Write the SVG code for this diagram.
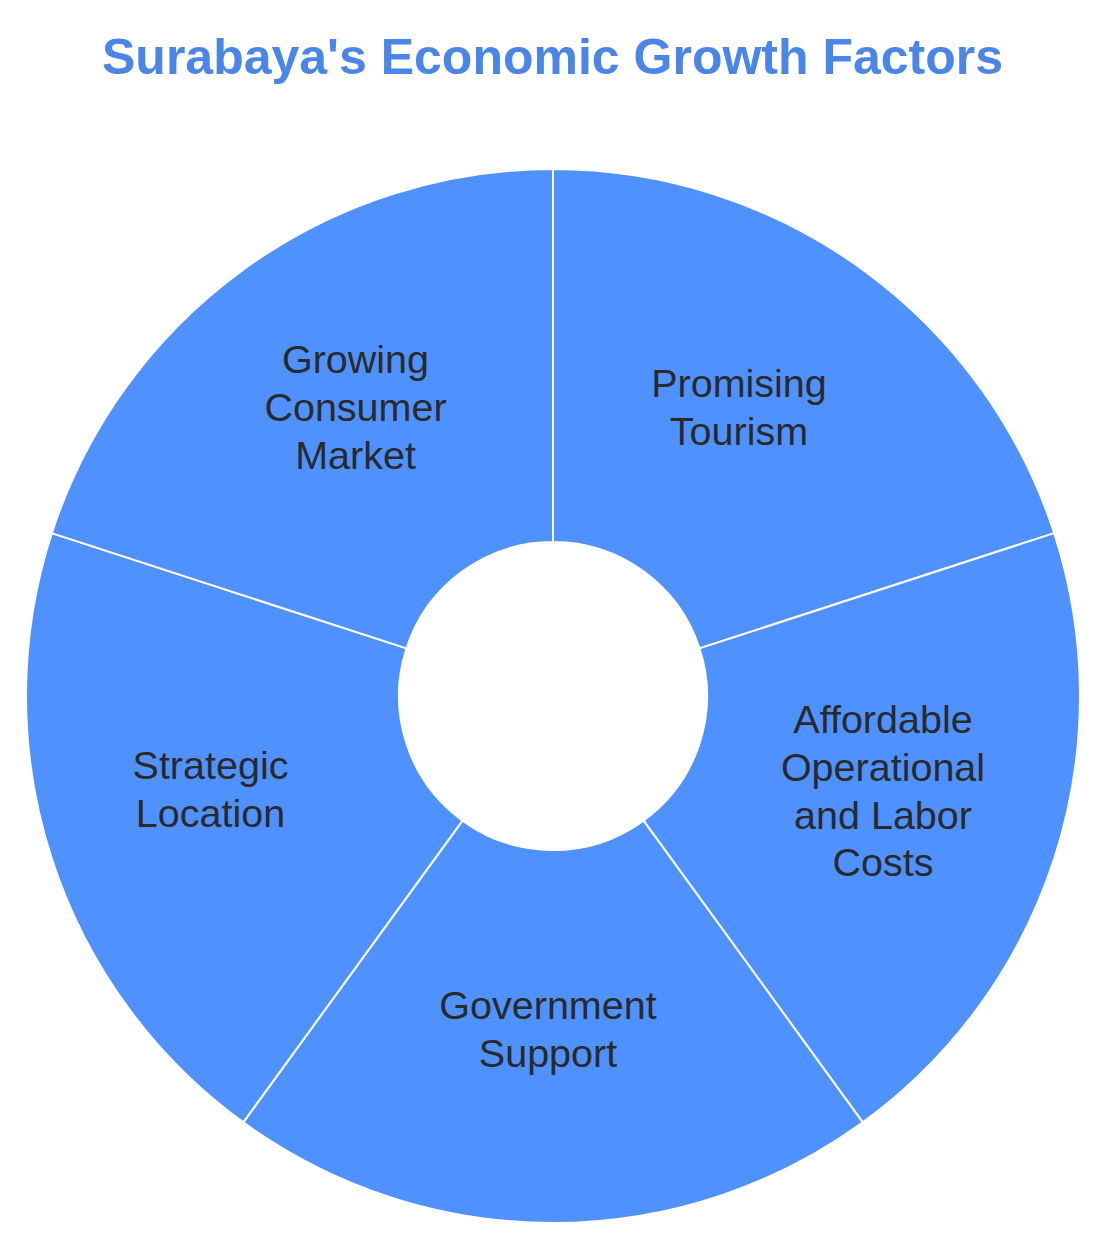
<svg xmlns="http://www.w3.org/2000/svg" width="1107" height="1249" viewBox="0 0 1107 1249">
<style>
.slice{fill:#4f92ff;stroke:#ffffff;stroke-width:2;stroke-linejoin:round}
.lbl{font-family:"Liberation Sans",Arial,sans-serif;font-size:39.5px;fill:#2a2a2a;text-anchor:middle}
.title{font-family:"Liberation Sans",Arial,sans-serif;font-size:50px;font-weight:bold;fill:#4a86e8;text-anchor:middle}
</style>
<rect width="1107" height="1249" fill="#ffffff"/>
<text class="title" x="552.5" y="74">Surabaya's Economic Growth Factors</text>
<g id="slice-tourism">
<path class="slice" d="M553,169 A527,527 0 0 1 1054.21,533.15 L699.46,648.41 A154,154 0 0 0 553,542 Z"/>
<text class="lbl" x="739" y="397">Promising</text>
<text class="lbl" x="739" y="445">Tourism</text>
</g>
<g id="slice-costs">
<path class="slice" d="M1054.21,533.15 A527,527 0 0 1 862.76,1122.35 L643.52,820.59 A154,154 0 0 0 699.46,648.41 Z"/>
<text class="lbl" x="883" y="733">Affordable</text>
<text class="lbl" x="883" y="781">Operational</text>
<text class="lbl" x="883" y="828.5">and Labor</text>
<text class="lbl" x="883" y="876">Costs</text>
</g>
<g id="slice-government">
<path class="slice" d="M862.76,1122.35 A527,527 0 0 1 243.24,1122.35 L462.48,820.59 A154,154 0 0 0 643.52,820.59 Z"/>
<text class="lbl" x="548" y="1018.5">Government</text>
<text class="lbl" x="548" y="1066.5">Support</text>
</g>
<g id="slice-location">
<path class="slice" d="M243.24,1122.35 A527,527 0 0 1 51.79,533.15 L406.54,648.41 A154,154 0 0 0 462.48,820.59 Z"/>
<text class="lbl" x="210.5" y="778.5">Strategic</text>
<text class="lbl" x="210.5" y="827">Location</text>
</g>
<g id="slice-consumer">
<path class="slice" d="M51.79,533.15 A527,527 0 0 1 553,169 L553,542 A154,154 0 0 0 406.54,648.41 Z"/>
<text class="lbl" x="355.5" y="372.5">Growing</text>
<text class="lbl" x="355.5" y="420.5">Consumer</text>
<text class="lbl" x="355.5" y="468.5">Market</text>
</g>
</svg>
